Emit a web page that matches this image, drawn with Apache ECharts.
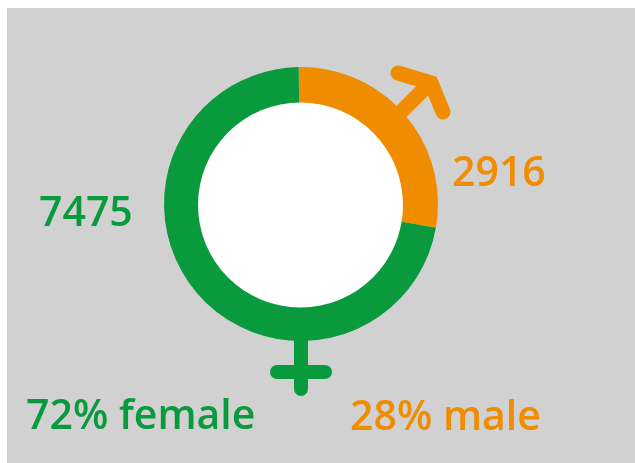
<!DOCTYPE html>
<html>
<head>
<meta charset="utf-8">
<style>
html,body{margin:0;padding:0;background:#fff;}
#main{position:absolute;left:0;top:0;width:635px;height:463px;}
</style>
<script src="https://cdn.jsdelivr.net/npm/echarts@6/dist/echarts.min.js"></script>
</head>
<body>
<div id="main"></div>
<script>
var categories = ['male', 'female'];
var counts = [2916, 7475];
var shares = ['28%', '72%'];
var colors = ['#ef8c00', '#0a9a3e'];

var myChart = echarts.init(document.getElementById('main'));

function label(x, y, str, color) {
    return {
        type: 'text',
        left: x,
        top: y,
        style: {text: str, fill: color, font: '600 41px "Open Sans"'}
    };
}
function stroke(points, color, w) {
    return {
        type: 'polyline',
        shape: {points: points},
        style: {stroke: color, fill: null, lineWidth: w, lineCap: 'round', lineJoin: 'miter'}
    };
}

var option = {
    animation: false,
    graphic: [
        {type: 'rect', z: -10, shape: {x: 7, y: 8, width: 628, height: 455}, style: {fill: '#d1d1d1'}},
        {type: 'circle', z: 10, shape: {cx: 300.5, cy: 205, r: 102.5}, style: {fill: '#fff'}},
        // male arrow
        stroke([[396, 117], [430, 83]], colors[0], 15),
        stroke([[398, 73], [431, 83], [443, 112]], colors[0], 15),
        // female cross
        stroke([[301, 335], [301, 389]], colors[1], 14),
        stroke([[277, 372], [325, 372]], colors[1], 14),
        label(452, 154, String(counts[0]), colors[0]),
        label(39, 194, String(counts[1]), colors[1]),
        label(350, 398, shares[0] + ' ' + categories[0], colors[0]),
        label(26, 397, shares[1] + ' ' + categories[1], colors[1])
    ],
    series: [
        {
            type: 'pie',
            center: [301, 204],
            radius: [95, 137],
            startAngle: 91,
            clockwise: true,
            silent: true,
            label: {show: false},
            labelLine: {show: false},
            data: categories.map(function (name, i) {
                return {name: name, value: counts[i], itemStyle: {color: colors[i]}};
            })
        }
    ]
};
myChart.setOption(option);
</script>
</body>
</html>
